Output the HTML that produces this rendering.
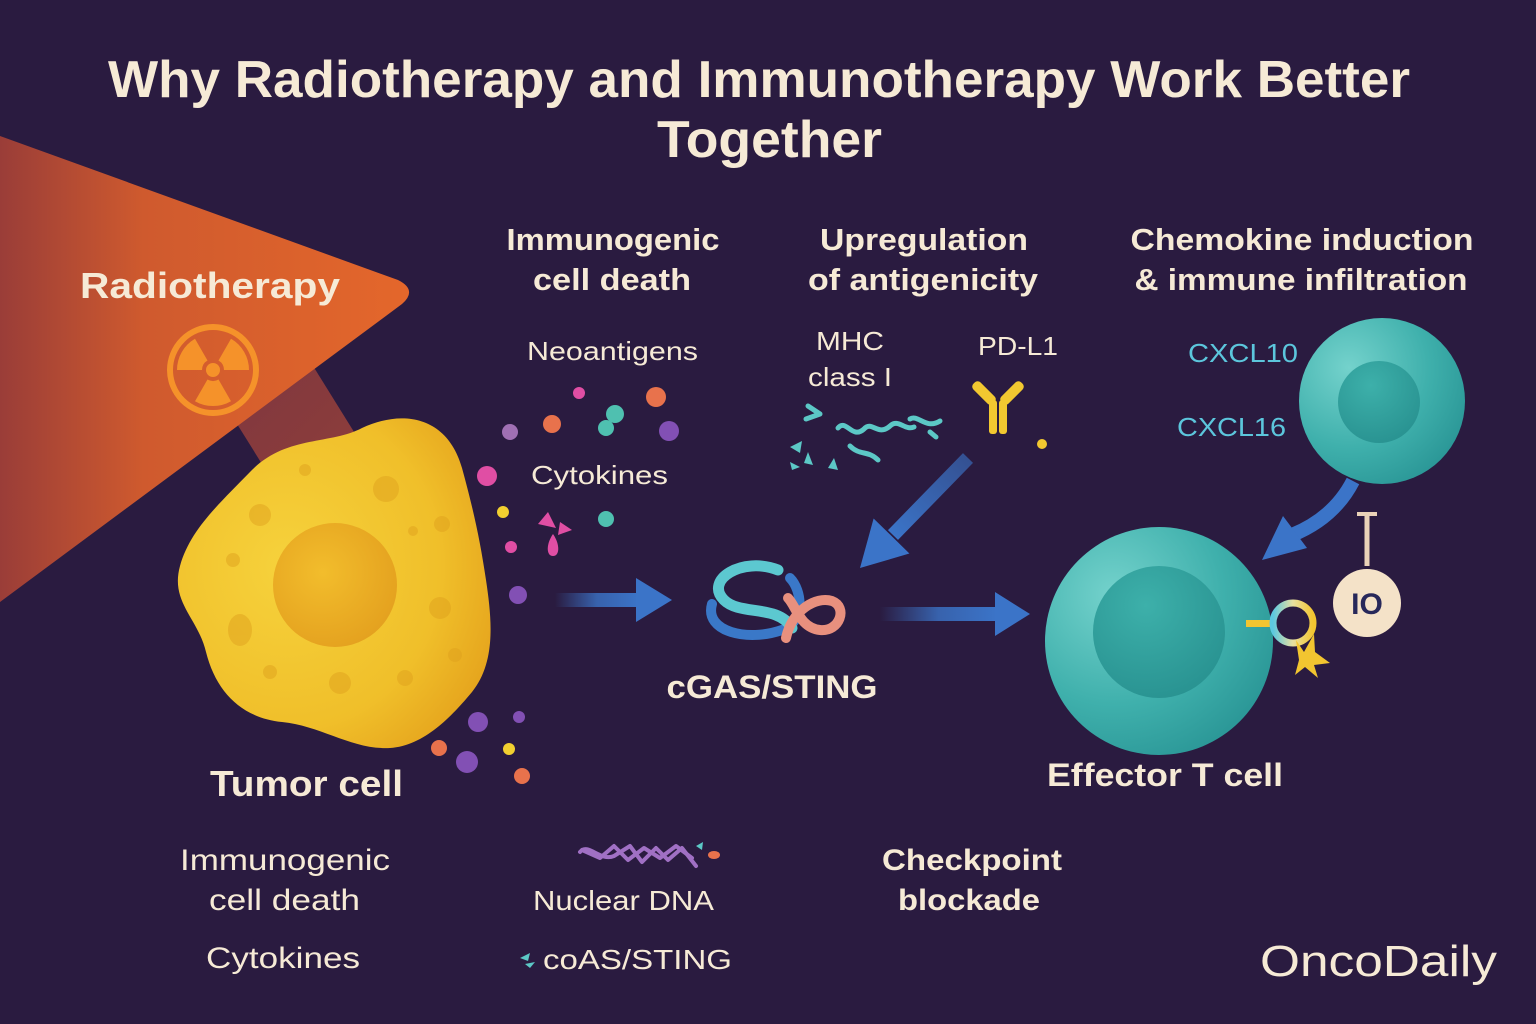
<!DOCTYPE html>
<html><head><meta charset="utf-8"><style>
html,body{margin:0;padding:0;background:#2a1b40;}
svg{display:block;}
text{font-family:"Liberation Sans",sans-serif;}
</style></head><body>
<svg width="1536" height="1024" viewBox="0 0 1536 1024" xmlns="http://www.w3.org/2000/svg">
<defs>
<linearGradient id="tri" x1="0" y1="0" x2="1" y2="0">
<stop offset="0" stop-color="#9a3d38"/><stop offset="0.35" stop-color="#cf5a2e"/><stop offset="1" stop-color="#e4672b"/>
</linearGradient>
<linearGradient id="beam" x1="0" y1="0" x2="1" y2="1">
<stop offset="0" stop-color="#7e3640"/><stop offset="1" stop-color="#8e3e3a"/>
</linearGradient>
<radialGradient id="tum" cx="0.35" cy="0.45" r="0.7">
<stop offset="0" stop-color="#f6d23c"/><stop offset="0.7" stop-color="#f0bf2a"/><stop offset="1" stop-color="#e6a61e"/>
</radialGradient>
<radialGradient id="nuc" cx="0.4" cy="0.4" r="0.7">
<stop offset="0" stop-color="#f2bd2c"/><stop offset="1" stop-color="#e39f1e"/>
</radialGradient>
<radialGradient id="tc" cx="0.3" cy="0.3" r="0.8">
<stop offset="0" stop-color="#74d2cc"/><stop offset="0.6" stop-color="#3fb0ac"/><stop offset="1" stop-color="#2a9696"/>
</radialGradient>
<radialGradient id="tn" cx="0.4" cy="0.3" r="0.8">
<stop offset="0" stop-color="#3db0aa"/><stop offset="1" stop-color="#27908f"/>
</radialGradient>
<linearGradient id="ah" x1="0" y1="0" x2="1" y2="0">
<stop offset="0" stop-color="#3b74c8" stop-opacity="0"/><stop offset="0.5" stop-color="#3b74c8" stop-opacity="0.8"/><stop offset="1" stop-color="#3b74c8"/>
</linearGradient>
<linearGradient id="ad" x1="1" y1="0" x2="0" y2="1">
<stop offset="0" stop-color="#3b74c8" stop-opacity="0.6"/><stop offset="1" stop-color="#3b74c8"/>
</linearGradient>
<linearGradient id="ring" x1="0" y1="0" x2="1" y2="0">
<stop offset="0" stop-color="#5cc8e0"/><stop offset="0.5" stop-color="#e8e0a0"/><stop offset="1" stop-color="#f2c530"/>
</linearGradient>
</defs>

<rect width="1536" height="1024" fill="#2a1b40"/>

<!-- Title -->
<text x="108" y="97" font-size="52" font-weight="bold" fill="#f6ead6" textLength="1302" lengthAdjust="spacingAndGlyphs">Why Radiotherapy and Immunotherapy Work Better</text>
<text x="657" y="157" font-size="52" font-weight="bold" fill="#f6ead6" textLength="225" lengthAdjust="spacingAndGlyphs">Together</text>

<!-- Radiotherapy beam & triangle -->
<polygon points="222,400 300,345 364,448 272,480" fill="url(#beam)"/>
<path d="M0,136 L398,280 Q418,290 402,304 L0,602 Z" fill="url(#tri)"/>
<text x="80" y="298" font-size="36" font-weight="bold" fill="#f6ead6" textLength="260" lengthAdjust="spacingAndGlyphs">Radiotherapy</text>
<g fill="#f5922a">
<circle cx="213" cy="370" r="43" fill="none" stroke="#f5922a" stroke-width="6"/>
<path d="M218.5,379.5 L231,401.2 A36,36 0 0 1 195,401.2 L207.5,379.5 A11,11 0 0 0 218.5,379.5 Z"/>
<path d="M218.5,360.5 L231,338.8 A36,36 0 0 1 249,370 L224,370 A11,11 0 0 0 218.5,360.5 Z"/>
<path d="M202,370 L177,370 A36,36 0 0 1 195,338.8 L207.5,360.5 A11,11 0 0 0 202,370 Z"/>
<circle cx="213" cy="370" r="7"/>
</g>

<!-- Tumor cell -->
<path d="M250,472 C285,435 330,445 362,428 C405,408 448,418 462,468 C474,512 480,540 486,580 C492,620 496,662 472,692 C452,716 424,746 390,748 C352,750 322,726 282,722 C242,718 216,692 206,652 C198,618 170,602 180,566 C190,530 218,505 250,472 Z" fill="url(#tum)"/>
<circle cx="335" cy="585" r="62" fill="url(#nuc)"/>
<g fill="#e0a21e" opacity="0.5">
<circle cx="386" cy="489" r="13"/><circle cx="442" cy="524" r="8"/><circle cx="413" cy="531" r="5"/>
<circle cx="260" cy="515" r="11"/><circle cx="233" cy="560" r="7"/><circle cx="440" cy="608" r="11"/>
<ellipse cx="240" cy="630" rx="12" ry="16"/><circle cx="270" cy="672" r="7"/><circle cx="340" cy="683" r="11"/>
<circle cx="405" cy="678" r="8"/><circle cx="455" cy="655" r="7"/><circle cx="305" cy="470" r="6"/>
</g>
<text x="210" y="796" font-size="36" font-weight="bold" fill="#f6ead6" textLength="193" lengthAdjust="spacingAndGlyphs">Tumor cell</text>

<!-- dots -->
<g>
<circle cx="510" cy="432" r="8" fill="#a070b4"/>
<circle cx="552" cy="424" r="9" fill="#e8724c"/>
<circle cx="579" cy="393" r="6" fill="#e04ea4"/>
<circle cx="656" cy="397" r="10" fill="#e8724c"/>
<circle cx="615" cy="414" r="9" fill="#4fc0b0"/>
<circle cx="606" cy="428" r="8" fill="#4fc0b0"/>
<circle cx="669" cy="431" r="10" fill="#8250b4"/>
<circle cx="487" cy="476" r="10" fill="#e04ea4"/>
<circle cx="503" cy="512" r="6" fill="#f2d030"/>
<circle cx="511" cy="547" r="6" fill="#e04ea4"/>
<circle cx="606" cy="519" r="8" fill="#4fc0b0"/>
<circle cx="518" cy="595" r="9" fill="#8250b4"/>
<polygon points="538,524 548,512 556,528" fill="#e04ea4"/>
<polygon points="560,522 572,530 558,535" fill="#e04ea4"/>
<path d="M553,534 C546,544 546,556 553,556 C560,556 560,544 553,534 Z" fill="#e04ea4"/>
<circle cx="478" cy="722" r="10" fill="#8250b4"/>
<circle cx="519" cy="717" r="6" fill="#8250b4"/>
<circle cx="439" cy="748" r="8" fill="#e8724c"/>
<circle cx="467" cy="762" r="11" fill="#8250b4"/>
<circle cx="509" cy="749" r="6" fill="#f2d030"/>
<circle cx="522" cy="776" r="8" fill="#e8724c"/>
</g>

<!-- section headers -->
<g font-size="31" font-weight="bold" fill="#f6ead6" text-anchor="middle">
<text x="613" y="250" textLength="213" lengthAdjust="spacingAndGlyphs">Immunogenic</text>
<text x="612" y="290" textLength="158" lengthAdjust="spacingAndGlyphs">cell death</text>
<text x="924" y="250" textLength="208" lengthAdjust="spacingAndGlyphs">Upregulation</text>
<text x="923" y="290" textLength="230" lengthAdjust="spacingAndGlyphs">of antigenicity</text>
<text x="1302" y="250" textLength="343" lengthAdjust="spacingAndGlyphs">Chemokine induction</text>
<text x="1301" y="290" textLength="333" lengthAdjust="spacingAndGlyphs">&amp; immune infiltration</text>
</g>

<g font-size="26" fill="#f6ead6">
<text x="527" y="360" textLength="171" lengthAdjust="spacingAndGlyphs">Neoantigens</text>
<text x="531" y="484" textLength="137" lengthAdjust="spacingAndGlyphs">Cytokines</text>
<text x="816" y="350" textLength="68" lengthAdjust="spacingAndGlyphs">MHC</text>
<text x="808" y="386" textLength="84" lengthAdjust="spacingAndGlyphs">class I</text>
<text x="978" y="355" textLength="80" lengthAdjust="spacingAndGlyphs">PD-L1</text>
</g>
<g font-size="26" fill="#5cc6dc">
<text x="1188" y="362" textLength="110" lengthAdjust="spacingAndGlyphs">CXCL10</text>
<text x="1177" y="436" textLength="109" lengthAdjust="spacingAndGlyphs">CXCL16</text>
</g>

<!-- MHC squiggles -->
<g fill="none" stroke="#5cc8c6" stroke-width="5" stroke-linecap="round" stroke-linejoin="round">
<path d="M808,406 L820,414 L806,419"/>
<path d="M838,428 C846,418 852,440 864,429 C872,420 878,437 890,426 C898,418 905,431 914,427"/>
<path d="M910,419 C918,414 926,430 940,421"/>
<path d="M850,446 C860,456 868,450 878,460"/>
<path d="M930,432 L936,437"/>
</g>
<g fill="#5cc8c6">
<polygon points="790,447 802,441 800,453"/>
<polygon points="808,452 813,465 804,463"/>
<polygon points="790,462 800,467 792,470"/>
<polygon points="834,458 838,470 828,468"/>
</g>

<!-- PD-L1 antibody -->
<g fill="#f2c830">
<rect x="970" y="388" width="28" height="10" rx="4" transform="rotate(45 984 393)"/>
<rect x="998" y="388" width="28" height="10" rx="4" transform="rotate(-45 1012 393)"/>
<rect x="989" y="400" width="8" height="34" rx="3"/>
<rect x="999" y="400" width="8" height="34" rx="3"/>
<circle cx="1042" cy="444" r="5"/>
</g>

<!-- arrows -->
<rect x="555" y="593" width="84" height="14" fill="url(#ah)"/>
<polygon points="636,578 672,600 636,622" fill="#3b74c8"/>
<rect x="880" y="607" width="117" height="14" fill="url(#ah)"/>
<polygon points="995,592 1030,614 995,636" fill="#3b74c8"/>
<line x1="968" y1="458" x2="893" y2="535" stroke="url(#ad)" stroke-width="14"/>
<polygon points="860,568 873.6,518.5 909.4,553.5" fill="#3b74c8"/>
<path d="M1353,481 Q1334,518 1292,535" fill="none" stroke="#3b74c8" stroke-width="14"/>
<polygon points="1262,560 1283,516 1307,548" fill="#3b74c8"/>

<!-- cGAS/STING icon -->
<g fill="none" stroke-linecap="round">
<path d="M712,604 C704,632 748,642 782,630 C806,622 802,590 790,578" stroke="#3a78c8" stroke-width="10"/>
<path d="M778,570 C742,556 704,580 724,600 C740,616 778,604 792,628" stroke="#5cc8d0" stroke-width="11"/>
<path d="M786,638 C792,610 816,596 832,601 C848,607 840,632 820,630 C800,628 796,606 788,598" stroke="#e8907e" stroke-width="10"/>
</g>
<text x="772" y="698" font-size="32" font-weight="bold" fill="#f6ead6" text-anchor="middle" textLength="211" lengthAdjust="spacingAndGlyphs">cGAS/STING</text>

<!-- upper T cell -->
<circle cx="1382" cy="401" r="83" fill="url(#tc)"/>
<circle cx="1379" cy="402" r="41" fill="url(#tn)"/>

<!-- effector T cell -->
<circle cx="1159" cy="641" r="114" fill="url(#tc)"/>
<circle cx="1159" cy="632" r="66" fill="url(#tn)"/>
<text x="1047" y="786" font-size="32" font-weight="bold" fill="#f6ead6" textLength="236" lengthAdjust="spacingAndGlyphs">Effector T cell</text>

<!-- receptor & IO -->
<rect x="1246" y="620" width="24" height="7" fill="#f2c530"/>
<circle cx="1293" cy="623" r="20" fill="none" stroke="url(#ring)" stroke-width="7"/>
<polygon points="1296,640 1304,652 1314,634 1315,652 1330,663 1314,665 1318,678 1305,667 1295,675 1299,660" fill="#f2c530"/>
<line x1="1367" y1="514" x2="1367" y2="566" stroke="#ead2b8" stroke-width="5"/>
<line x1="1357" y1="514" x2="1377" y2="514" stroke="#ead2b8" stroke-width="4"/>
<circle cx="1367" cy="603" r="34" fill="#f4e2c8"/>
<text x="1367" y="614" font-size="30" font-weight="bold" fill="#27285a" text-anchor="middle">IO</text>

<!-- bottom labels -->
<g font-size="30" fill="#f6ead6">
<text x="180" y="870" textLength="210" lengthAdjust="spacingAndGlyphs">Immunogenic</text>
<text x="209" y="910" textLength="151" lengthAdjust="spacingAndGlyphs">cell death</text>
<text x="206" y="968" textLength="154" lengthAdjust="spacingAndGlyphs">Cytokines</text>
</g>
<g font-size="28" fill="#f6ead6">
<text x="533" y="910" textLength="181" lengthAdjust="spacingAndGlyphs">Nuclear DNA</text>
<text x="543" y="969" textLength="189" lengthAdjust="spacingAndGlyphs">coAS/STING</text>
</g>
<g fill="#5cc8c6">
<polygon points="520,958 530,953 528,961"/><polygon points="525,964 535,962 530,968"/>
</g>
<g fill="none" stroke="#a070c4" stroke-width="4" stroke-linecap="round" stroke-linejoin="round">
<path d="M580,852 C588,842 600,862 614,856 L630,846 L642,862 L656,848 L668,860 L682,848 L696,866"/>
<path d="M582,850 L600,858 L614,846 L628,860 L644,848 L660,858 L676,846 L692,858"/>
</g>
<polygon points="696,846 703,842 702,850" fill="#5cc8c6"/>
<ellipse cx="714" cy="855" rx="6" ry="4" fill="#e8724c"/>

<g font-size="30" font-weight="bold" fill="#f6ead6">
<text x="882" y="870" textLength="180" lengthAdjust="spacingAndGlyphs">Checkpoint</text>
<text x="898" y="910" textLength="142" lengthAdjust="spacingAndGlyphs">blockade</text>
</g>
<text x="1260" y="976" font-size="44" fill="#f6ead6" textLength="237" lengthAdjust="spacingAndGlyphs">OncoDaily</text>
</svg>
</body></html>
